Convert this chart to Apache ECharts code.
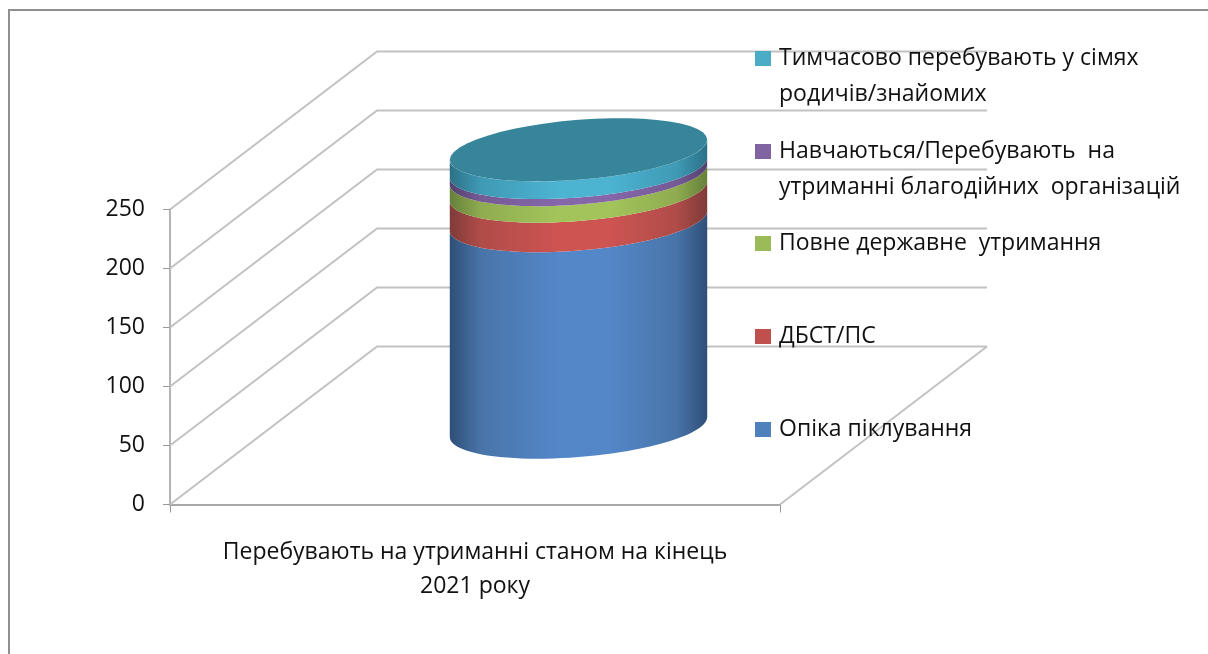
<!DOCTYPE html>
<html>
<head>
<meta charset="utf-8">
<style>html,body{margin:0;padding:0;background:#fff}#chart{width:1208px;height:654px}</style>
<script src="https://cdn.jsdelivr.net/npm/echarts@6/dist/echarts.min.js"></script>
</head>
<body>
<div id="chart"></div>
<script>
const categories = ['Перебувають на утриманні станом на кінець\n2021 року']
const yTicks = [0, 50, 100, 150, 200, 250]

// bottom to top, same order as the stack
const seriesNames = [
  'Опіка піклування',
  'ДБСТ/ПС',
  'Повне державне  утримання',
  'Навчаються/Перебувають  на\nутриманні благодійних  організацій',
  'Тимчасово перебувають у сімях\nродичів/знайомих'
]
const seriesValues = [175, 25, 14, 6, 15]

const sideColors = [
  ['#2f4f78', '#4874a8', '#5487c8'],
  ['#7f3b39', '#b04c49', '#cd5451'],
  ['#65803a', '#8fac50', '#a3c45b'],
  ['#54406f', '#755a96', '#8567a9'],
  ['#2b7186', '#3f9ab5', '#4cb3d1']
]
const legendColors = ['#4f81bd', '#c0504d', '#9bbb59', '#8064a2', '#4bacc6']
const topColor = '#36859a'
const legendTops = [431, 338, 245, 153, 60]

const FONT = '"Open Sans"'
const FONT_SIZE = 23
const DEPTH_X = 207
const DEPTH_Y = 158
const wallColor = '#c2c2c2'

function ellipsePoints(cx, cy, a, from, to) {
  const pts = []
  const n = 48
  for (let i = 0; i <= n; i++) {
    const t = from + (to - from) * i / n
    pts.push([cx + a * Math.cos(t), cy - a * 0.078 * Math.cos(t) + a * 0.233 * Math.sin(t)])
  }
  return pts
}

function renderWall(params, api) {
  const p = api.coord([0, api.value(1)])
  const x0 = params.coordSys.x
  const x1 = x0 + params.coordSys.width
  const style = { stroke: wallColor, lineWidth: 2, fill: null }
  const children = [{
    type: 'polyline',
    shape: { points: [[x0, p[1]], [x0 + DEPTH_X, p[1] - DEPTH_Y], [x1 + DEPTH_X, p[1] - DEPTH_Y]] },
    style
  }]
  // right edge of the floor
  if (api.value(1) === 0) {
    children.push({
      type: 'line',
      shape: { x1: x1, y1: p[1], x2: x1 + DEPTH_X, y2: p[1] - DEPTH_Y },
      style
    })
  }
  return { type: 'group', children }
}

function renderSegment(params, api) {
  const base = api.coord([0, api.value(1)])
  const top = api.coord([0, api.value(2)])
  const band = api.size([1, 0])[0]
  const a = band * 0.211
  const cx = base[0] + DEPTH_X / 2
  const yBase = base[1] - DEPTH_Y * 0.49
  const yTop = top[1] - DEPTH_Y * 0.49
  const c = sideColors[params.seriesIndex - 1]
  const lower = ellipsePoints(cx, yBase, a, 0, Math.PI)
  const upper = ellipsePoints(cx, yTop, a, Math.PI, 0)
  const children = [{
    type: 'polygon',
    shape: { points: lower.concat(upper) },
    style: {
      fill: new echarts.graphic.LinearGradient(0, 0, 1, 0, [
        { offset: 0, color: c[0] },
        { offset: 0.12, color: c[1] },
        { offset: 0.42, color: c[2] },
        { offset: 0.62, color: c[2] },
        { offset: 0.88, color: c[1] },
        { offset: 1, color: c[0] }
      ])
    }
  }]
  if (params.seriesIndex === seriesNames.length) {
    children.push({
      type: 'polygon',
      shape: { points: ellipsePoints(cx, yTop, a, 0, Math.PI * 2) },
      style: { fill: topColor }
    })
  }
  return { type: 'group', children }
}

let running = 0
const cylinderSeries = seriesNames.map((name, i) => {
  const from = running
  running += seriesValues[i]
  return {
    name,
    type: 'custom',
    renderItem: renderSegment,
    data: [[0, from, running]],
    z: 3,
    silent: true
  }
})

const chart = echarts.init(document.getElementById('chart'), null, { renderer: 'canvas' })

chart.setOption({
  animation: false,
  backgroundColor: '#fff',
  textStyle: { fontFamily: FONT },
  grid: { left: 170, top: 209.5, width: 610, height: 295 },
  xAxis: {
    type: 'category',
    data: categories,
    axisLine: { lineStyle: { color: '#a8a8a8', width: 2 } },
    axisTick: { show: true, length: 8, lineStyle: { color: '#9a9a9a', width: 1 } },
    axisLabel: { color: '#111', fontFamily: FONT, fontSize: FONT_SIZE, lineHeight: 34, margin: 31, interval: 0 }
  },
  yAxis: {
    type: 'value',
    min: 0,
    max: 250,
    interval: 50,
    splitLine: { show: false },
    axisLine: { show: true, lineStyle: { color: '#b4b4b4', width: 2 } },
    axisTick: { show: true, length: 7, lineStyle: { color: '#9a9a9a', width: 1 } },
    axisLabel: { color: '#111', fontFamily: FONT, fontSize: FONT_SIZE, margin: 25, padding: [6, 0, 0, 0] }
  },
  legend: seriesNames.map((name, i) => ({
    data: [name],
    left: 755,
    top: legendTops[i] - 19,
    padding: 0,
    icon: 'rect',
    itemWidth: 16,
    itemHeight: 15,
    itemGap: 0,
    selectedMode: false,
    formatter: n => n.split('\n')[0],
    textStyle: { color: '#111', fontFamily: FONT, fontSize: FONT_SIZE, padding: [5, 0, 0, 3], lineHeight: 30 },
    itemStyle: { color: legendColors[i] }
  })),
  graphic: [
    {
      type: 'rect',
      silent: true,
      z: -1,
      shape: { x: 9, y: 10, width: 1400, height: 900 },
      style: { fill: 'none', stroke: '#8f8f8f', lineWidth: 2 }
    }
  ].concat(seriesNames.map((name, i) => {
    const second = name.split('\n')[1]
    if (!second) return null
    return {
      type: 'text',
      silent: true,
      left: 779,
      top: legendTops[i] + 34 - 15,
      style: { text: second, fill: '#111', font: `${FONT_SIZE}px ${FONT}`, lineHeight: 30 }
    }
  }).filter(Boolean)),
  series: [
    {
      name: 'стінки',
      type: 'custom',
      renderItem: renderWall,
      data: yTicks.map(v => [0, v]),
      z: 1,
      silent: true
    }
  ].concat(cylinderSeries)
})
</script>
</body>
</html>
